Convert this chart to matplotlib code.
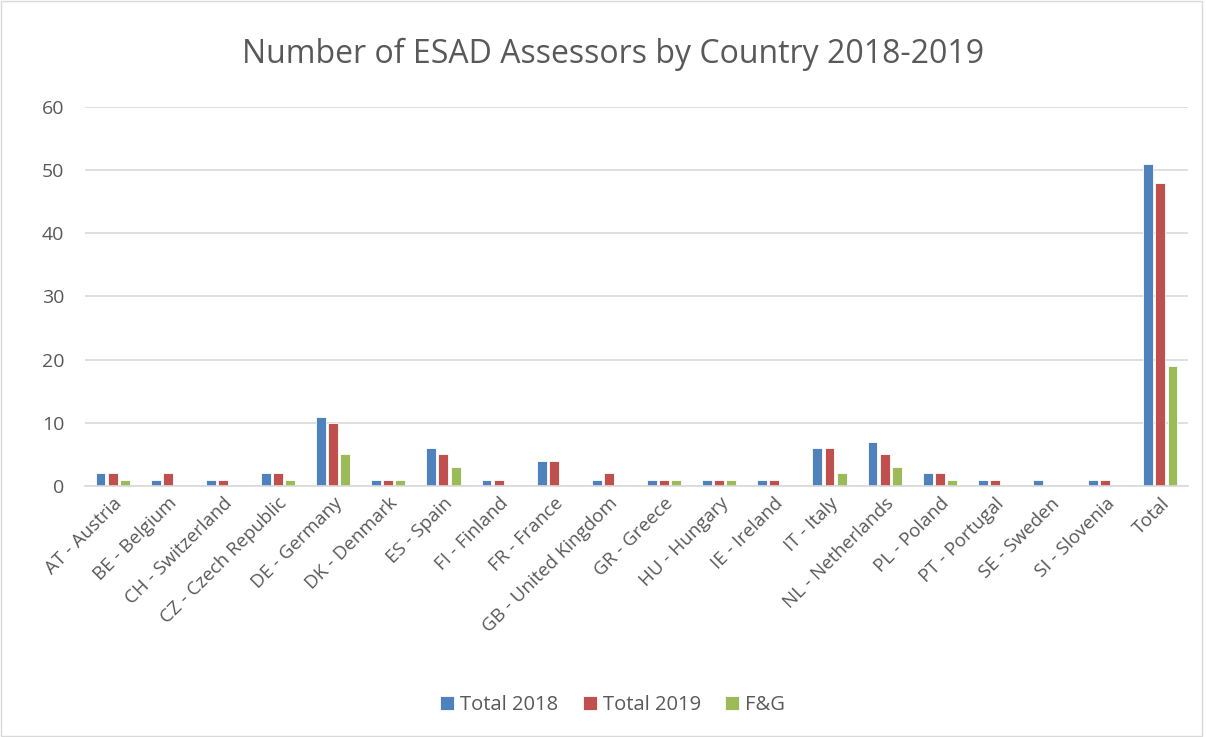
import numpy as np
import matplotlib.pyplot as plt
from matplotlib.patches import Rectangle

countries = ['AT - Austria', 'BE - Belgium', 'CH - Switzerland', 'CZ - Czech Republic',
             'DE - Germany', 'DK - Denmark', 'ES - Spain', 'FI - Finland', 'FR - France',
             'GB - United Kingdom', 'GR - Greece', 'HU - Hungary', 'IE - Ireland',
             'IT - Italy', 'NL - Netherlands', 'PL - Poland', 'PT - Portugal',
             'SE - Sweden', 'SI - Slovenia', 'Total']
total_2018 = [2, 1, 1, 2, 11, 1, 6, 1, 4, 1, 1, 1, 1, 6, 7, 2, 1, 1, 1, 51]
total_2019 = [2, 2, 1, 2, 10, 1, 5, 1, 4, 2, 1, 1, 1, 6, 5, 2, 1, 0, 1, 48]
f_and_g = [1, 0, 0, 1, 5, 1, 3, 0, 0, 0, 1, 1, 0, 2, 3, 1, 0, 0, 0, 19]
series_names = ['Total 2018', 'Total 2019', 'F&G']
colors = ['#4F81BD', '#C0504D', '#9BBB59']

plt.rcParams['font.family'] = ['Open Sans', 'DejaVu Sans']
text_color = '#595959'

fig = plt.figure(figsize=(12.06, 7.37), dpi=100)
ax = fig.add_axes([0.0705, 0.3406, 0.9145, 0.5142])

x = np.arange(len(countries))
width = 0.18
offsets = [-0.22, 0, 0.22]
for vals, off, col, name in zip([total_2018, total_2019, f_and_g], offsets, colors, series_names):
    ax.bar(x + off, vals, width, color=col, label=name, edgecolor='white', linewidth=0.6)

ax.set_xlim(-0.5, len(countries) - 0.5)
ax.set_ylim(0, 60)
ax.set_yticks(range(0, 61, 10))
ax.yaxis.grid(True, color='#d9d9d9', linewidth=1.2)
ax.set_axisbelow(True)
for side in ['top', 'right', 'left']:
    ax.spines[side].set_visible(False)
ax.spines['bottom'].set_color('#d9d9d9')
ax.spines['bottom'].set_linewidth(1.2)
ax.tick_params(axis='both', length=0, labelcolor=text_color)
ax.tick_params(axis='y', pad=15, labelsize=14)
ax.tick_params(axis='x', pad=6, labelsize=13.5)
ax.set_xticks(x)
ax.set_xticklabels(countries, rotation=45, ha='right', rotation_mode='anchor')

fig.text(0.508, 0.926, 'Number of ESAD Assessors by Country 2018-2019',
         ha='center', va='center', fontsize=23, color=text_color)

fig.legend(loc='center', bbox_to_anchor=(0.508, 0.043), ncol=3, frameon=False,
           fontsize=14.5, labelcolor=text_color, handlelength=0.7, handleheight=0.7,
           handletextpad=0.3, columnspacing=1.2)

fig.add_artist(Rectangle((0.001, 0.002), 0.996, 0.996, transform=fig.transFigure,
                         fill=False, edgecolor='#d9d9d9', linewidth=1))

plt.savefig('out.png', dpi=100)
